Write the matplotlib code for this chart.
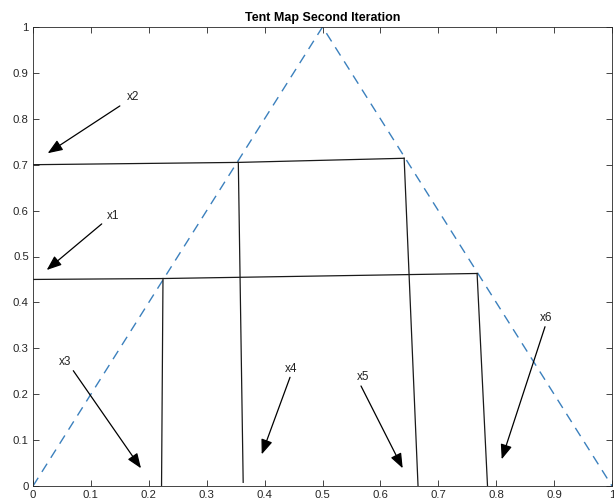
import matplotlib
matplotlib.use('Agg')
import matplotlib.pyplot as plt
import numpy as np

# tent map (dashed)
tent_x = [0, 0.5, 1]
tent_y = [0, 1, 0]

# second iteration cobweb segments
seg_x = [[0, 0.3546, 0.641], [0.3546, 0.363], [0.641, 0.665],
         [0, 0.2245, 0.767], [0.2245, 0.222], [0.767, 0.785]]
seg_y = [[0.70, 0.705, 0.714], [0.705, 0.008], [0.714, 0.0],
         [0.45, 0.452, 0.463], [0.452, 0.0], [0.463, 0.0]]

# labels: name, text position, arrow tail, arrow head
labels = ['x2', 'x1', 'x3', 'x4', 'x5', 'x6']
text_pos = [(0.173, 0.847), (0.138, 0.588), (0.0553, 0.271),
            (0.4465, 0.255), (0.570, 0.238), (0.887, 0.365)]
tails = [(0.150, 0.828), (0.1187, 0.571), (0.0696, 0.2512),
         (0.4439, 0.2368), (0.5665, 0.2179), (0.8843, 0.347)]
heads = [(0.0254, 0.725), (0.0237, 0.4706), (0.1865, 0.0386),
         (0.395, 0.069), (0.6385, 0.0386), (0.8095, 0.0582)]

ticks = np.round(np.arange(0, 1.01, 0.1), 1)
tick_labels = ['0', '0.1', '0.2', '0.3', '0.4', '0.5', '0.6', '0.7', '0.8', '0.9', '1']

plt.rcParams['font.family'] = ['Liberation Sans', 'DejaVu Sans']
fig = plt.figure(figsize=(6.14, 5.04), dpi=100)
ax = fig.add_axes([33/614, 18/504, 579/614, 459/504])

ax.plot(tent_x, tent_y, color='#3b80bd', lw=1.0, dashes=(7, 5))
for xs, ys in zip(seg_x, seg_y):
    ax.plot(xs, ys, color='#1a1a1a', lw=0.9)

for lab, tp, t, h in zip(labels, text_pos, tails, heads):
    ax.annotate('', xy=h, xytext=t,
                arrowprops=dict(arrowstyle='-|>,head_length=0.9,head_width=0.35',
                                color='k', lw=0.9, shrinkA=0, shrinkB=0))
    ax.text(tp[0], tp[1], lab, fontsize=8.5, ha='center', va='center', color='#222222')

ax.set_xlim(0, 1)
ax.set_ylim(0, 1)
ax.set_xticks(ticks)
ax.set_yticks(ticks)
ax.set_xticklabels(tick_labels)
ax.set_yticklabels(tick_labels)
ax.tick_params(direction='in', length=4, width=0.6, top=True, right=True,
               labelsize=8.2, colors='#262626', pad=3)
for sp in ax.spines.values():
    sp.set_color('#262626')
    sp.set_linewidth(0.6)
ax.set_title('Tent Map Second Iteration', fontsize=9, fontweight='bold', pad=4)

fig.savefig('out.png', dpi=100)
